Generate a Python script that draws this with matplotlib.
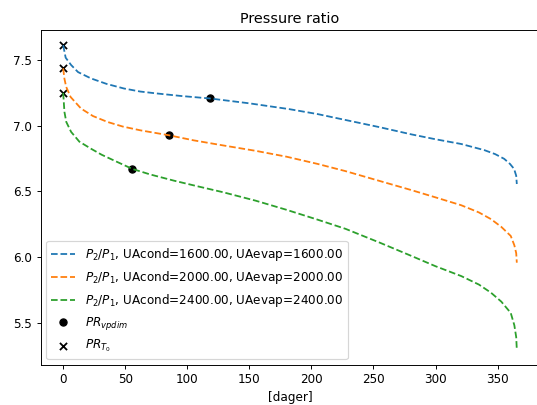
import numpy as np
from matplotlib import pyplot as plt

# values
days_1600 = [0, 2, 6.4, 12, 22.4, 35, 49, 62, 75.7, 95, 118.3, 150, 182, 205, 227.5, 255, 280.7, 300, 320.7, 339.4, 348, 355.3, 360, 363.3, 365, 365.5]
pr_1600 = [7.615, 7.52, 7.464, 7.41, 7.362, 7.32, 7.285, 7.262, 7.247, 7.228, 7.209, 7.172, 7.128, 7.09, 7.045, 6.99, 6.935, 6.898, 6.862, 6.815, 6.785, 6.749, 6.71, 6.672, 6.62, 6.557]

days_2000 = [0, 1, 2.4, 6, 14.4, 24, 35.7, 48, 62.3, 85.5, 105, 128.9, 155, 180, 205, 227.5, 255, 280.7, 300, 320.7, 335, 344.7, 353, 360.6, 363.5, 365, 365.5]
pr_2000 = [7.439, 7.36, 7.298, 7.22, 7.132, 7.075, 7.03, 6.995, 6.966, 6.928, 6.89, 6.851, 6.81, 6.765, 6.71, 6.655, 6.58, 6.51, 6.455, 6.395, 6.34, 6.289, 6.23, 6.161, 6.09, 6.03, 5.957]

days_2400 = [0, 0.5, 1, 2.5, 6.4, 13, 22.4, 31, 41, 55.7, 70, 89, 108, 128.9, 155, 180, 205, 227.5, 255, 280.7, 300, 320.7, 335, 344.7, 353, 360.6, 363.5, 365, 365.5]
pr_2400 = [7.252, 7.18, 7.107, 7.03, 6.954, 6.88, 6.826, 6.78, 6.736, 6.672, 6.63, 6.583, 6.54, 6.494, 6.43, 6.36, 6.285, 6.215, 6.11, 6.008, 5.93, 5.855, 5.79, 5.728, 5.66, 5.574, 5.48, 5.39, 5.293]

ua_values = [1600, 2000, 2400]
vpdim_days = [118.3, 85.5, 55.7]
vpdim_pr = [7.209, 6.928, 6.672]
t0_days = [0, 0, 0]
t0_pr = [7.615, 7.439, 7.252]

dpi = 86
fig = plt.figure(figsize=(537 / dpi, 405 / dpi), dpi=dpi)
ax = fig.add_axes([40.5 / 537, 40 / 405, 499 / 537, 335 / 405])

for days, pr, ua in zip([days_1600, days_2000, days_2400], [pr_1600, pr_2000, pr_2400], ua_values):
    ax.plot(days, pr, linestyle="--",
            label="$P_2/P_1$, UAcond=%.2f, UAevap=%.2f" % (ua, ua))

ax.scatter(vpdim_days, vpdim_pr, color="black", marker="o", label="$PR_{vpdim}$")
ax.scatter(t0_days, t0_pr, color="black", marker="x", label="$PR_{T_0}$")

ax.set_title("Pressure ratio")
ax.set_xlabel("[dager]")
ax.legend(loc="lower left")

fig.savefig("out.png", dpi=dpi)
